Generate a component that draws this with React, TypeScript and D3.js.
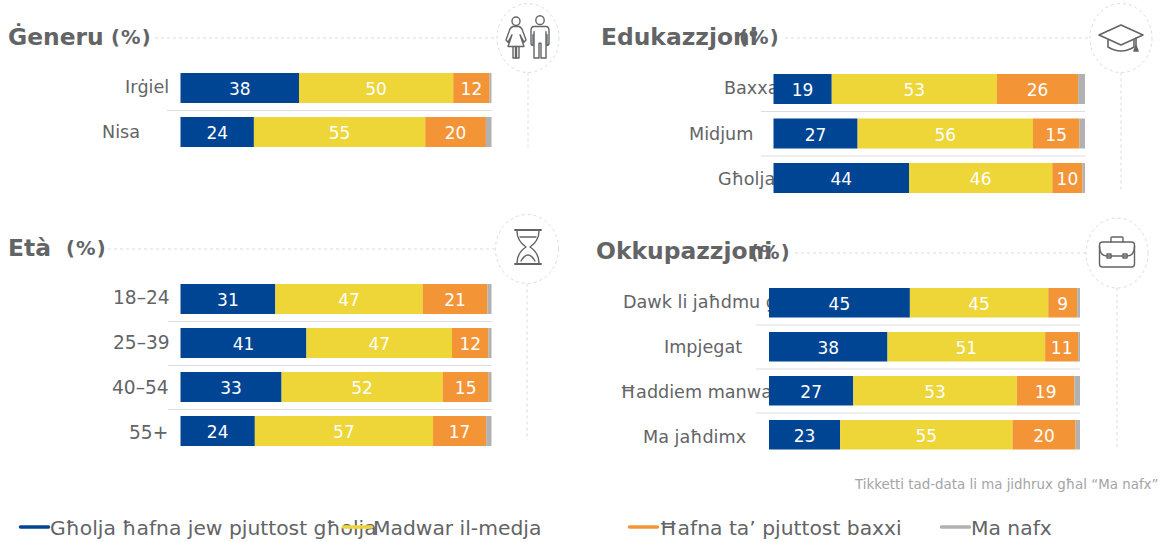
import React from "react";
import * as d3 from "d3";

const seriesNames = ["Għolja ħafna jew pjuttost għolja", "Madwar il-medja", "Ħafna ta’ pjuttost baxxi", "Ma nafx"];
const colors = ["#004494", "#EED538", "#F39437", "#B1B1B1"];

const genderCats = ["Irġiel", "Nisa"];
const genderVals = [[38.1, 49.6, 11.7, 0.6], [23.6, 55.1, 19.5, 1.8]];
const eduCats = ["Baxxa", "Midjum", "Għolja"];
const eduVals = [[18.7, 53.0, 26.1, 2.2], [27.0, 56.3, 14.9, 1.8], [43.5, 46.0, 9.7, 0.8]];
const ageCats = ["18–24", "25–39", "40–54", "55+"];
const ageVals = [[30.5, 47.4, 20.8, 1.3], [40.5, 46.8, 11.7, 1.0], [32.5, 51.8, 14.8, 0.9], [23.9, 57.3, 17.1, 1.7]];
const occCats = ["Dawk li jaħdmu għal rashom", "Impjegat", "Ħaddiem manwali", "Ma jaħdimx"];
const occVals = [[45.3, 44.5, 9.3, 0.9], [38.1, 50.7, 10.6, 0.6], [27.1, 52.6, 18.5, 1.8], [22.9, 55.4, 20.3, 1.4]];

const FONT = "'DejaVu Sans', Verdana, sans-serif";
const GREY = "#636466";
const DASH = "#dcdcdc";

type P = {
  title: string; titleX: number; titleY: number; pctX: number; pctY: number;
  dashFrom: number; dashTo: number; cx: number; cy: number; rx: number; ry: number; vEnd: number;
  x0: number; x1: number; sepX: number; firstTop: number; step: number; barH: number;
  cats: string[]; vals: number[][]; labelX: number[]; labelY0: number; labelStep: number; labelSize: number; icon: string;
};

const panels: P[] = [
  { title: "Ġeneru", titleX: 8, titleY: 45, pctX: 111, pctY: 44, dashFrom: 155, dashTo: 497, cx: 528, cy: 38, rx: 31, ry: 34.5, vEnd: 148,
    x0: 180.5, x1: 491.5, sepX: 167, firstTop: 73, step: 44, barH: 30, cats: genderCats, vals: genderVals, labelX: [125, 102], labelY0: 93, labelStep: 45, labelSize: 17.6, icon: "people" },
  { title: "Edukazzjoni", titleX: 601, titleY: 45, pctX: 739, pctY: 44, dashFrom: 785, dashTo: 1090, cx: 1121, cy: 38, rx: 31, ry: 34.5, vEnd: 192,
    x0: 773.5, x1: 1085, sepX: 761, firstTop: 74, step: 44.5, barH: 30, cats: eduCats, vals: eduVals, labelX: [724, 689, 718], labelY0: 94, labelStep: 45.5, labelSize: 17.6, icon: "cap" },
  { title: "Età", titleX: 8, titleY: 256, pctX: 66, pctY: 255, dashFrom: 108, dashTo: 495, cx: 527, cy: 249, rx: 31.5, ry: 34.5, vEnd: 440,
    x0: 180.5, x1: 491.5, sepX: 168, firstTop: 284, step: 44, barH: 30, cats: ageCats, vals: ageVals, labelX: [113, 113, 112, 129], labelY0: 303.5, labelStep: 45.3, labelSize: 18.6, icon: "glass" },
  { title: "Okkupazzjoni", titleX: 596, titleY: 259, pctX: 750, pctY: 259, dashFrom: 795, dashTo: 1087, cx: 1117, cy: 253, rx: 31, ry: 35, vEnd: 449,
    x0: 769, x1: 1080, sepX: 756, firstTop: 288, step: 44, barH: 29.5, cats: occCats, vals: occVals, labelX: [623, 664, 620, 643], labelY0: 308, labelStep: 45, labelSize: 17.6, icon: "case" },
];

function Icon({ kind, cx, cy }: { kind: string; cx: number; cy: number }) {
  const common = { fill: "none", stroke: GREY, strokeWidth: 1.4, strokeLinejoin: "round" as const, strokeLinecap: "round" as const };
  if (kind === "people") return (
    <g transform={`translate(${cx},${cy}) scale(1,1.05)`} {...common}>
      <circle cx={-12} cy={-16} r={4} />
      <path d="M-15,-11 Q-18,-10 -19,-6 L-22,2 L-20,4 L-16,-3 L-20,8 L-4,8 L-8,-3 L-4,4 L-2,2 L-5,-6 Q-6,-10 -9,-11 Z" />
      <path d="M-15,8 V19 H-12.5 V8 M-11.5,8 V19 H-9 V8" />
      <circle cx={12} cy={-17} r={4.2} />
      <path d="M6,-11 H18 Q21,-11 21,-7 V5 Q21,7 19,7 V-3 M5,-3 V7 Q3,7 3,5 V-7 Q3,-11 6,-11" />
      <path d="M6,-6 V19 H11 V5 H13 V19 H18 V-6" />
    </g>
  );
  if (kind === "cap") return (
    <g transform={`translate(${cx},${cy})`} {...common} strokeWidth={1.6}>
      <path d="M-22,-3 L0,-13 L22,-3 L0,7 Z" />
      <path d="M-13,2 V9 Q0,17 13,9 V2" />
      <path d="M15,0 V8" />
      <path d="M13,13 L15,8 L17,13 Z" fill={GREY} />
    </g>
  );
  if (kind === "glass") return (
    <g transform={`translate(${cx + 1},${cy - 2})`} {...common}>
      <path d="M-13,-17 H13 M-13,17 H13" strokeWidth={2} />
      <path d="M-11,-16 Q-11,-6 -2,0 Q-11,6 -11,16 M11,-16 Q11,-6 2,0 Q11,6 11,16" />
      <path d="M-8,-10 H8 M-7,14 Q0,2 7,14" />
    </g>
  );
  return (
    <g transform={`translate(${cx},${cy})`} {...common}>
      <rect x={-17.5} y={-11} width={35} height={25} rx={3} />
      <path d="M-6,-11 V-15 Q-6,-16 -5,-16 H5 Q6,-16 6,-15 V-11" />
      <path d="M-17.5,-7 Q-17.5,3 -10,3 H10 Q17.5,3 17.5,-7" />
      <rect x={-10} y={1} width={4} height={4} />
      <rect x={6} y={1} width={4} height={4} />
    </g>
  );
}

function Panel({ p }: { p: P }) {
  const x = d3.scaleLinear().domain([0, 100]).range([p.x0, p.x1]);
  const stack = (row: number[]) => {
    const c = d3.cumsum(row);
    return row.map((v, i) => ({ v, i, a: i ? c[i - 1] : 0, b: c[i] }));
  };
  return (
    <g>
      <line x1={p.dashFrom} x2={p.dashTo} y1={p.cy} y2={p.cy} stroke={DASH} strokeDasharray="3 3" />
      <ellipse cx={p.cx} cy={p.cy} rx={p.rx} ry={p.ry} fill="none" stroke={DASH} strokeDasharray="3 3" />
      <line x1={p.cx} x2={p.cx} y1={p.cy + p.ry} y2={p.vEnd} stroke={DASH} strokeDasharray="3 3" />
      <Icon kind={p.icon} cx={p.cx} cy={p.cy} />
      <text x={p.titleX} y={p.titleY} fontSize={23.4} fontWeight={700} fill={GREY}>{p.title}</text>
      <text x={p.pctX} y={p.pctY} fontSize={19.5} fontWeight={700} letterSpacing={1.2} fill={GREY}>(%)</text>
      {p.cats.map((c, r) => (
        <text key={c} x={p.labelX[r]} y={p.labelY0 + r * p.labelStep} fontSize={p.labelSize} fill={GREY}>{c}</text>
      ))}
      {p.cats.slice(0, -1).map((c, r) => (
        <line key={c} x1={p.sepX} x2={p.x1} y1={p.firstTop + r * p.step + p.barH + 7.5} y2={p.firstTop + r * p.step + p.barH + 7.5} stroke="#dddddf" strokeWidth={1.2} />
      ))}
      {p.vals.map((row, r) => stack(row).map(s => (
        <g key={`${r}-${s.i}`}>
          <rect x={x(s.a)} width={x(s.b) - x(s.a)} y={p.firstTop + r * p.step} height={p.barH} fill={colors[s.i]} />
          {s.i < 3 && (
            <text x={(x(s.a) + x(s.b)) / 2} y={p.firstTop + r * p.step + 22} fontSize={17} fill="#fff" textAnchor="middle">{Math.round(s.v)}</text>
          )}
        </g>
      )))}
    </g>
  );
}

const legendX = [19, 342, 628, 940];

export default function App() {
  return (
    <svg width={1162} height={542} style={{ position: "absolute", left: 0, top: 0, fontFamily: FONT }}>
      {panels.map(p => <Panel key={p.title} p={p} />)}
      <text x={855} y={489} fontSize={13.4} fill="#a3a4a8">Tikketti tad-data li ma jidhrux għal “Ma nafx”</text>
      {seriesNames.map((n, i) => (
        <g key={n}>
          <line x1={legendX[i] + 1.5} x2={legendX[i] + 29.5} y1={527} y2={527} stroke={colors[i]} strokeWidth={3.5} strokeLinecap="round" />
          <text x={legendX[i] + 31} y={535} fontSize={20.3} fill={GREY}>{n}</text>
        </g>
      ))}
    </svg>
  );
}
